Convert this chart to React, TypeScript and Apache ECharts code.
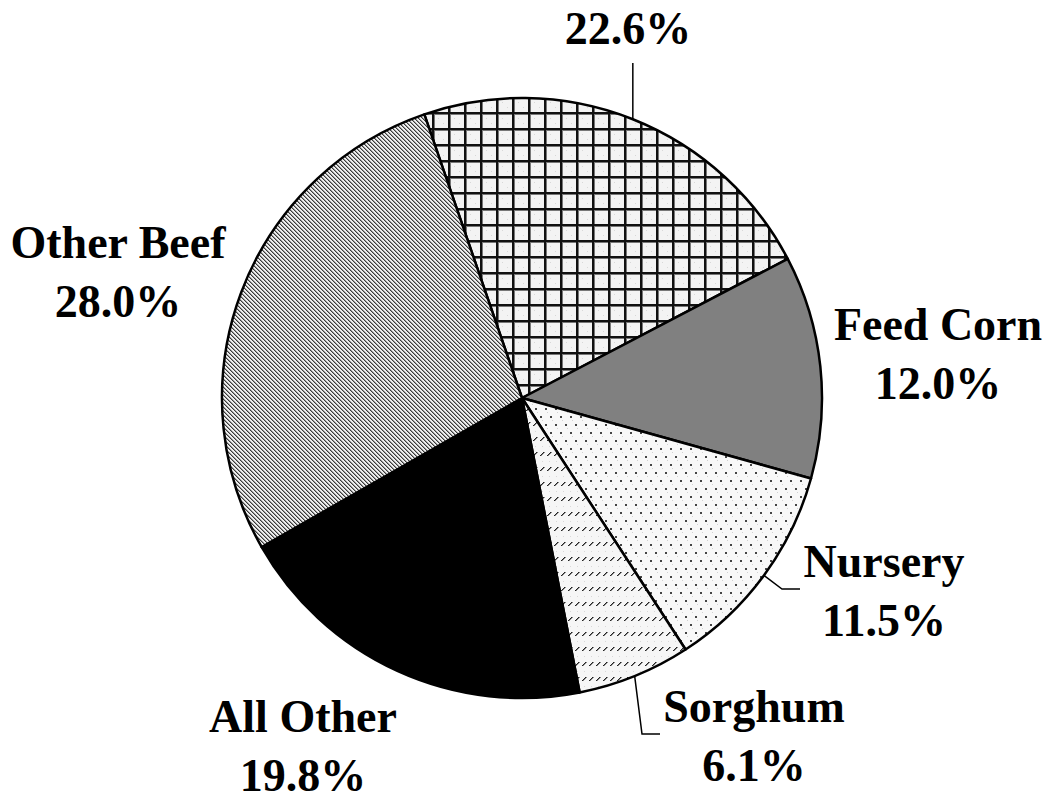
import React, { useEffect, useRef } from "react";
import * as echarts from "echarts";

// ---- data ----
const categories = ["", "Feed Corn", "Nursery", "Sorghum", "All Other", "Other Beef"];
const shares = [22.6, 12.0, 11.5, 6.1, 19.8, 28.0];
const hasLeader = [true, false, true, true, false, false];

// ---- layout ----
const CX = 522;
const CY = 398;
const R = 300;
const START_ANGLE = 109;
const labelCenters: number[][] = [
  [628, 28],
  [938, 354],
  [884, 591],
  [754, 736],
  [303, 746],
  [118, 272],
];
// bend points of the leader lines after the slice edge point
const leaderBends: number[][][] = [
  [[-1, 63]], // -1 => keep x of edge point (vertical line)
  [],
  [[782, 589], [800, 589]],
  [[642, 734], [660, 734]],
  [],
  [],
];

function edgePoint(i: number): number[] {
  const total = shares.reduce((a, b) => a + b, 0);
  let cum = 0;
  for (let k = 0; k < i; k++) cum += shares[k];
  const mid = START_ANGLE - ((cum + shares[i] / 2) / total) * 360;
  const rad = (mid * Math.PI) / 180;
  return [CX + R * Math.cos(rad), CY - R * Math.sin(rad)];
}

function leaderPoints(i: number): number[][] {
  const e = edgePoint(i);
  const pts = [e];
  leaderBends[i].forEach((p) => pts.push([p[0] < 0 ? e[0] : p[0], p[1]]));
  return pts;
}

function makeTile(w: number, h: number, draw: (ctx: CanvasRenderingContext2D) => void) {
  const c = document.createElement("canvas");
  c.width = w;
  c.height = h;
  const ctx = c.getContext("2d") as CanvasRenderingContext2D;
  draw(ctx);
  return c;
}

function buildPatterns() {
  const grid = makeTile(16, 16, (ctx) => {
    ctx.fillStyle = "#f3f3f3";
    ctx.fillRect(0, 0, 16, 16);
    ctx.fillStyle = "#d8d8d8";
    ctx.fillRect(6, 6, 1, 1);
    ctx.fillRect(11, 11, 1, 1);
    ctx.fillStyle = "#777";
    ctx.fillRect(0, 2, 16, 1);
    ctx.fillRect(2, 0, 1, 16);
    ctx.fillStyle = "#111";
    ctx.fillRect(0, 0, 16, 2);
    ctx.fillRect(0, 0, 2, 16);
  });
  const dots = makeTile(10, 16, (ctx) => {
    ctx.fillStyle = "#f8f8f8";
    ctx.fillRect(0, 0, 10, 16);
    ctx.fillStyle = "#d2d2d2";
    ctx.fillRect(2, 4, 1, 1);
    ctx.fillRect(7, 12, 1, 1);
    ctx.fillStyle = "#444";
    ctx.fillRect(0, 0, 2, 2);
    ctx.fillRect(5, 8, 2, 2);
  });
  const dashes = makeTile(7, 15, (ctx) => {
    ctx.fillStyle = "#f6f6f6";
    ctx.fillRect(0, 0, 7, 15);
    ctx.fillStyle = "#d8d8d8";
    ctx.fillRect(3, 11, 1, 1);
    ctx.fillStyle = "#888";
    ctx.fillRect(2, 5, 1, 1);
    ctx.fillRect(3, 4, 1, 1);
    ctx.fillRect(4, 3, 1, 1);
    ctx.fillRect(5, 2, 1, 1);
    ctx.fillStyle = "#222";
    ctx.fillRect(1, 5, 1, 1);
    ctx.fillRect(2, 4, 1, 1);
    ctx.fillRect(3, 3, 1, 1);
    ctx.fillRect(4, 2, 1, 1);
  });
  const stripes = makeTile(4, 4, (ctx) => {
    ctx.fillStyle = "#eeeeee";
    ctx.fillRect(0, 0, 4, 4);
    for (let k = 0; k < 4; k++) {
      ctx.fillStyle = "#3a3a3a";
      ctx.fillRect(k, k, 1, 1);
      ctx.fillStyle = "#999";
      ctx.fillRect((k + 1) % 4, k, 1, 1);
    }
  });
  const pat = (c: HTMLCanvasElement) => ({ image: c, repeat: "repeat" });
  return [pat(grid), "#808080", pat(dots), pat(dashes), "#000000", pat(stripes)];
}

export default function App() {
  const ref = useRef<HTMLDivElement>(null);

  useEffect(() => {
    if (!ref.current) return;
    const chart = echarts.init(ref.current, null, { renderer: "svg" });
    const fills = buildPatterns();

    const option: any = {
      animation: false,
      backgroundColor: "#ffffff",
      series: [
        {
          type: "pie",
          center: [CX, CY],
          radius: [0, R],
          startAngle: START_ANGLE,
          clockwise: true,
          avoidLabelOverlap: false,
          silent: true,
          emphasis: { disabled: true },
          itemStyle: { borderColor: "#000", borderWidth: 2.5 },
          label: {
            show: true,
            position: "outside",
            color: "#000",
            fontFamily: "'Liberation Serif', 'Times New Roman', serif",
            fontWeight: "bold",
            fontSize: 46,
            lineHeight: 59,
            align: "center",
            formatter: (p: any) =>
              p.name ? `${p.name}\n${Number(p.value).toFixed(1)}%` : `${Number(p.value).toFixed(1)}%`,
          },
          labelLine: {
            show: true,
            smooth: false,
            lineStyle: { color: "#000", width: 1.5 },
          },
          labelLayout: (params: any) => {
            const i = params.dataIndex;
            const res: any = {
              x: labelCenters[i][0],
              y: labelCenters[i][1],
              align: "center",
              verticalAlign: "middle",
            };
            if (hasLeader[i]) res.labelLinePoints = leaderPoints(i);
            return res;
          },
          data: categories.map((name, i) => ({
            name,
            value: shares[i],
            itemStyle: { color: fills[i] },
            labelLine: { show: hasLeader[i] },
          })),
        },
      ],
    };
    chart.setOption(option);
    return () => chart.dispose();
  }, []);

  return (
    <div
      ref={ref}
      style={{ position: "fixed", left: 0, top: 0, width: 1048, height: 804, background: "#fff" }}
    />
  );
}
